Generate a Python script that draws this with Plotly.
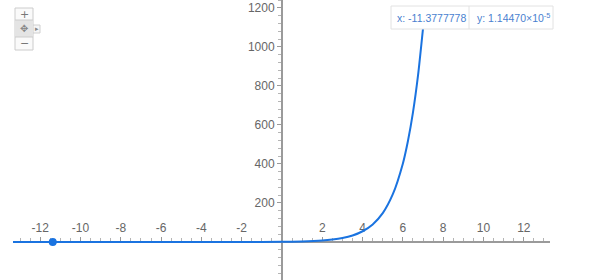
import plotly.graph_objects as go

# Curve values (x, y)
curve_x = [-13.35, -12, -10, -8, -6, -4, -2, 0, 1, 2, 2.5, 3, 3.5, 4, 4.5, 5, 5.5, 6, 6.25, 6.5, 6.75, 7.0]
curve_y = [0, 0, 0, 0, 0, 0.02, 0.14, 1, 2.7, 7.4, 12.2, 20, 33, 55, 90, 148, 245, 403, 518, 665, 854, 1097]

# Highlighted point
point_x = [-11.3777778]
point_y = [0.0000114470]

# Tick labels shown on the x axis (0 hidden, ASCII hyphen for negatives)
x_tick_values = [-12, -10, -8, -6, -4, -2, 2, 4, 6, 8, 10, 12]
x_dtick = 2
y_dtick = 200

tip_x_text = "x: -11.3777778"
tip_y_text = "y: 1.14470×10<sup>-5</sup>"

W, H = 600, 280
X_RANGE = [-13.35, 13.3]
Y_RANGE = [-195, 1241]
X_DOMAIN = [13 / W, 550 / W]


def px(x):
    return x / W


def py(y):
    return 1 - y / H


BLUE = "#1a73e0"
GREY = "#9a9a9a"
TXT = "#666666"

x_alias = {"0": " "}
for v in x_tick_values:
    if v < 0:
        x_alias["\u2212" + str(abs(v))] = "-" + str(abs(v))

fig = go.Figure()
fig.add_trace(go.Scatter(x=curve_x, y=curve_y, mode="lines",
                         line=dict(color=BLUE, width=2, shape="spline", smoothing=0.6),
                         hoverinfo="skip", showlegend=False))
fig.add_trace(go.Scatter(x=point_x, y=point_y, mode="markers",
                         marker=dict(color=BLUE, size=8), showlegend=False,
                         cliponaxis=False))

x_zero_frac = (0 - X_RANGE[0]) / (X_RANGE[1] - X_RANGE[0])
y_axis_pos = X_DOMAIN[0] + x_zero_frac * (X_DOMAIN[1] - X_DOMAIN[0])
x_axis_pos = (0 - Y_RANGE[0]) / (Y_RANGE[1] - Y_RANGE[0])

fig.update_layout(
    width=W, height=H,
    margin=dict(l=0, r=0, t=0, b=0),
    paper_bgcolor="white", plot_bgcolor="white",
    font=dict(family="Liberation Sans, Arial, sans-serif", size=12, color=TXT),
    xaxis=dict(range=X_RANGE, domain=X_DOMAIN, anchor="free", position=x_axis_pos,
               side="top", showgrid=False, zeroline=False, layer="below traces",
               showline=True, linecolor=GREY, linewidth=2,
               tickmode="linear", tick0=0, dtick=x_dtick, labelalias=x_alias,
               ticks="outside", ticklen=4, tickcolor=GREY, tickwidth=1,
               tickfont=dict(size=12, color=TXT),
               minor=dict(tickmode="linear", tick0=0, dtick=0.5, ticks="outside",
                          ticklen=3, tickcolor="#b5b5b5", tickwidth=1, showgrid=False)),
    yaxis=dict(range=Y_RANGE, domain=[0, 1], anchor="free", position=y_axis_pos,
               side="left", showgrid=False, zeroline=False, layer="below traces",
               showline=True, linecolor=GREY, linewidth=2,
               tickmode="linear", tick0=0, dtick=y_dtick, labelalias={"0": " "},
               ticks="outside", ticklen=4, tickcolor=GREY, tickwidth=1,
               tickfont=dict(size=12, color=TXT),
               minor=dict(tickmode="linear", tick0=0, dtick=40, ticks="outside",
                          ticklen=3, tickcolor="#b5b5b5", tickwidth=1, showgrid=False)),
)

shapes = []
annos = []

# Tooltip box
shapes.append(dict(type="rect", xref="paper", yref="paper",
                   x0=px(391), x1=px(553), y0=py(29), y1=py(6),
                   fillcolor="white", line=dict(color="#e2e2e2", width=1), layer="above"))
shapes.append(dict(type="line", xref="paper", yref="paper",
                   x0=px(469), x1=px(469), y0=py(29), y1=py(6),
                   line=dict(color="#e2e2e2", width=1), layer="above"))
annos.append(dict(xref="paper", yref="paper", x=px(395), y=py(17.5), text=tip_x_text,
                  showarrow=False, xanchor="left", yanchor="middle",
                  font=dict(size=10.5, color="#4a7fd0")))
annos.append(dict(xref="paper", yref="paper", x=px(475), y=py(17.5), text=tip_y_text,
                  showarrow=False, xanchor="left", yanchor="middle",
                  font=dict(size=10.5, color="#4a7fd0")))

# Zoom widget
shapes.append(dict(type="rect", xref="paper", yref="paper",
                   x0=px(32.5), x1=px(40), y0=py(33), y1=py(25),
                   fillcolor="#f6f6f6", line=dict(color="#d0d0d0", width=1), layer="above"))
shapes.append(dict(type="rect", xref="paper", yref="paper",
                   x0=px(15), x1=px(33), y0=py(50), y1=py(8),
                   fillcolor="#fafafa", line=dict(color="#cccccc", width=1), layer="above"))
shapes.append(dict(type="rect", xref="paper", yref="paper",
                   x0=px(15.5), x1=px(32.5), y0=py(37), y1=py(20),
                   fillcolor="#e4e4e4", line=dict(width=0), layer="above"))
for yy in (20, 37):
    shapes.append(dict(type="line", xref="paper", yref="paper",
                       x0=px(15), x1=px(33), y0=py(yy), y1=py(yy),
                       line=dict(color="#cccccc", width=1), layer="above"))
annos.append(dict(xref="paper", yref="paper", x=px(24), y=py(14), text="+",
                  showarrow=False, xanchor="center", yanchor="middle", borderpad=0,
                  font=dict(family="DejaVu Sans", size=11, color="#777777")))
annos.append(dict(xref="paper", yref="paper", x=px(24), y=py(28.5), text="✥",
                  showarrow=False, xanchor="center", yanchor="middle", borderpad=0,
                  font=dict(family="DejaVu Sans", size=10, color="#888888")))
annos.append(dict(xref="paper", yref="paper", x=px(24), y=py(43.5), text="−",
                  showarrow=False, xanchor="center", yanchor="middle", borderpad=0,
                  font=dict(family="DejaVu Sans", size=11, color="#777777")))
annos.append(dict(xref="paper", yref="paper", x=px(36.5), y=py(29), text="▸",
                  showarrow=False, xanchor="center", yanchor="middle", borderpad=0,
                  font=dict(family="DejaVu Sans", size=7, color="#888888")))

fig.update_layout(shapes=shapes, annotations=annos)

fig.write_html("out.html")
